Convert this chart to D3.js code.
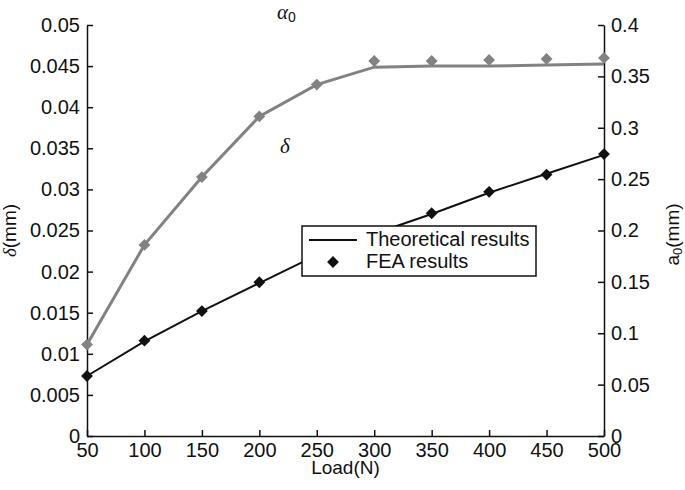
<!DOCTYPE html>
<html>
<head>
<meta charset="utf-8">
<script src="https://cdn.jsdelivr.net/npm/d3@7"></script>
<style>
  html, body { margin: 0; padding: 0; background: #fff; }
  svg { display: block; }
</style>
</head>
<body>
<div id="chart"></div>
<script>
// Load vs. deflection (left axis) and contact width a0 (right axis)

const loads       = [50, 100, 150, 200, 250, 300, 350, 400, 450, 500];
const deltaTheory = [0.0073, 0.0115, 0.0152, 0.0186, 0.0220, 0.0246, 0.0270, 0.0296, 0.0319, 0.0342];
const deltaFea    = [0.0073, 0.0116, 0.0152, 0.0187, 0.0221, 0.0247, 0.0271, 0.0297, 0.0318, 0.0343];
const a0Theory    = [0.089, 0.186, 0.252, 0.311, 0.342, 0.359, 0.360, 0.360, 0.361, 0.362];
const a0Fea       = [0.089, 0.186, 0.252, 0.311, 0.342, 0.365, 0.365, 0.366, 0.367, 0.368];

const xTicks     = [50, 100, 150, 200, 250, 300, 350, 400, 450, 500];
const leftTicks  = [0, 0.005, 0.01, 0.015, 0.02, 0.025, 0.03, 0.035, 0.04, 0.045, 0.05];
const rightTicks = [0, 0.05, 0.1, 0.15, 0.2, 0.25, 0.3, 0.35, 0.4];

const W = 685, H = 490;
const plotL = 87, plotR = 604, plotT = 25, plotB = 436;
const GRAY = '#828282', BLACK = '#111';
const FONT = 'Liberation Sans, Arial, Helvetica, sans-serif';
const SERIF = 'Liberation Serif, Times New Roman, serif';

const svg = d3.select('#chart').append('svg')
  .attr('width', W).attr('height', H)
  .attr('viewBox', `0 0 ${W} ${H}`);

const x  = d3.scaleLinear().domain([50, 500]).range([plotL, plotR]);
const yL = d3.scaleLinear().domain([0, 0.05]).range([plotB, plotT]);
const yR = d3.scaleLinear().domain([0, 0.4]).range([plotB, plotT]);

const fmt = d => d === 0 ? '0' : String(+d.toFixed(3));

function styleAxis(g) {
  g.select('.domain').attr('stroke', BLACK).attr('stroke-width', 1.5);
  g.selectAll('.tick line').attr('stroke', BLACK).attr('stroke-width', 1.5);
  g.selectAll('.tick text')
    .attr('fill', BLACK)
    .attr('font-size', 20)
    .attr('font-family', FONT);
}

// bottom axis, ticks pointing inward
svg.append('g')
  .attr('transform', `translate(0,${plotB})`)
  .call(d3.axisBottom(x).tickValues(xTicks).tickSizeInner(-6).tickSizeOuter(0).tickPadding(7).tickFormat(d3.format('d')))
  .call(styleAxis);

svg.append('g')
  .attr('transform', `translate(${plotL},0)`)
  .call(d3.axisLeft(yL).tickValues(leftTicks).tickSizeInner(-6).tickSizeOuter(0).tickPadding(7).tickFormat(fmt))
  .call(styleAxis);

svg.append('g')
  .attr('transform', `translate(${plotR},0)`)
  .call(d3.axisRight(yR).tickValues(rightTicks).tickSizeInner(-6).tickSizeOuter(0).tickPadding(7).tickFormat(fmt))
  .call(styleAxis);

// axis titles
svg.append('text')
  .attr('x', x(275)).attr('y', 474)
  .attr('text-anchor', 'middle')
  .attr('font-size', 19).attr('font-family', FONT).attr('fill', BLACK)
  .text('Load(N)');

const lt = svg.append('text')
  .attr('transform', `translate(16,${(plotT + plotB) / 2}) rotate(-90)`)
  .attr('text-anchor', 'middle')
  .attr('font-size', 19).attr('font-family', FONT).attr('fill', BLACK);
lt.append('tspan').attr('font-family', SERIF).attr('font-style', 'italic').text('δ');
lt.append('tspan').text('(mm)');

const rt = svg.append('text')
  .attr('transform', `translate(679,${(plotT + plotB) / 2 + 4}) rotate(-90)`)
  .attr('text-anchor', 'middle')
  .attr('font-size', 19).attr('font-family', FONT).attr('fill', BLACK);
rt.append('tspan').text('a');
rt.append('tspan').attr('font-size', 13).attr('dy', 3).text('0');
rt.append('tspan').attr('dy', -3).text('(mm)');

// series
const lineL = d3.line().x((d, i) => x(loads[i])).y(d => yL(d));
const lineR = d3.line().x((d, i) => x(loads[i])).y(d => yR(d));
const diamond = d3.symbol().type(d3.symbolSquare).size(70);

svg.append('path')
  .attr('d', lineR(a0Theory))
  .attr('fill', 'none').attr('stroke', GRAY).attr('stroke-width', 3);

svg.append('g').selectAll('path')
  .data(a0Fea)
  .join('path')
  .attr('d', diamond)
  .attr('transform', (d, i) => `translate(${x(loads[i])},${yR(d)}) rotate(45)`)
  .attr('fill', GRAY);

svg.append('path')
  .attr('d', lineL(deltaTheory))
  .attr('fill', 'none').attr('stroke', BLACK).attr('stroke-width', 2);

svg.append('g').selectAll('path')
  .data(deltaFea)
  .join('path')
  .attr('d', diamond)
  .attr('transform', (d, i) => `translate(${x(loads[i])},${yL(d)}) rotate(45)`)
  .attr('fill', BLACK);

// curve labels
const al = svg.append('text')
  .attr('x', 277).attr('y', 19)
  .attr('font-size', 21).attr('fill', BLACK);
al.append('tspan').attr('font-family', SERIF).attr('font-style', 'italic').text('α');
al.append('tspan').attr('font-family', FONT).attr('font-size', 14).attr('dy', 3).text('0');

svg.append('text')
  .attr('x', 280).attr('y', 153)
  .attr('font-size', 21).attr('font-family', SERIF).attr('font-style', 'italic')
  .attr('fill', BLACK)
  .text('δ');

// legend
const leg = svg.append('g').attr('transform', 'translate(302,226)');
leg.append('rect')
  .attr('width', 234).attr('height', 50)
  .attr('fill', '#fff').attr('stroke', BLACK).attr('stroke-width', 1.5);
leg.append('line')
  .attr('x1', 7).attr('x2', 55).attr('y1', 14).attr('y2', 14)
  .attr('stroke', BLACK).attr('stroke-width', 2);
leg.append('path')
  .attr('d', diamond)
  .attr('transform', 'translate(31,36) rotate(45)')
  .attr('fill', BLACK);
leg.append('text')
  .attr('x', 64).attr('y', 20)
  .attr('font-size', 20).attr('font-family', FONT).attr('fill', BLACK)
  .text('Theoretical results');
leg.append('text')
  .attr('x', 64).attr('y', 42)
  .attr('font-size', 20).attr('font-family', FONT).attr('fill', BLACK)
  .text('FEA results');
</script>
</body>
</html>
